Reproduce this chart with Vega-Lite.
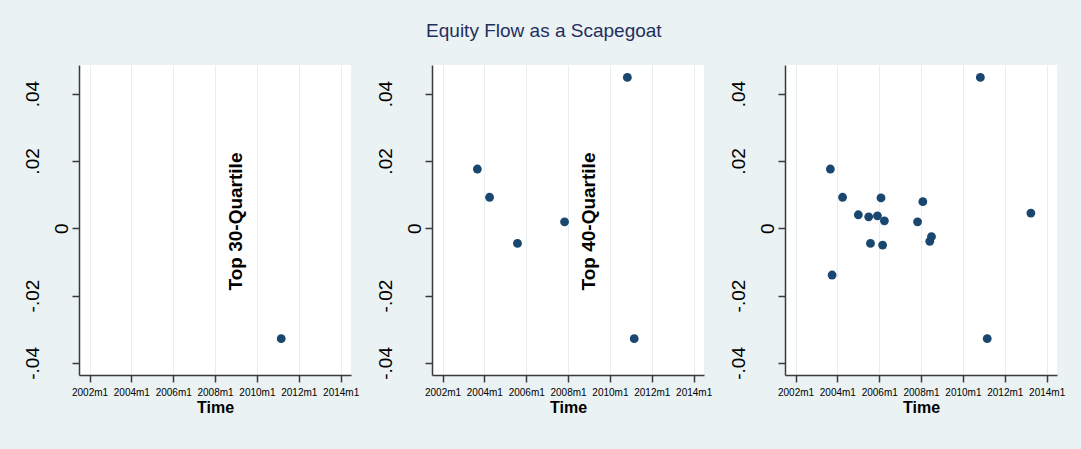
{
  "$schema": "https://vega.github.io/schema/vega-lite/v6.json",
  "padding": {"left": 22, "top": 22, "right": 16, "bottom": 36},
  "background": "#EAF2F3",
  "title": {"text": "Equity Flow as a Scapegoat", "font": "Liberation Sans", "fontSize": 19, "fontWeight": "normal", "color": "#1F2F5F", "anchor": "middle", "frame": "bounds", "offset": 24},
  "datasets": {
    "pts": [
      {"panel": 1, "date": "2011-03-01", "value": -0.0328},
      {"panel": 2, "date": "2003-09-01", "value": 0.0176},
      {"panel": 2, "date": "2004-04-01", "value": 0.0092},
      {"panel": 2, "date": "2005-08-01", "value": -0.0045},
      {"panel": 2, "date": "2007-11-01", "value": 0.0019},
      {"panel": 2, "date": "2010-11-01", "value": 0.0448},
      {"panel": 2, "date": "2011-03-01", "value": -0.0328},
      {"panel": 3, "date": "2003-09-01", "value": 0.0176},
      {"panel": 3, "date": "2003-10-01", "value": -0.0139},
      {"panel": 3, "date": "2004-04-01", "value": 0.0092},
      {"panel": 3, "date": "2005-01-01", "value": 0.0040},
      {"panel": 3, "date": "2005-07-01", "value": 0.0034},
      {"panel": 3, "date": "2005-08-01", "value": -0.0045},
      {"panel": 3, "date": "2005-12-01", "value": 0.0037},
      {"panel": 3, "date": "2006-02-01", "value": 0.0090},
      {"panel": 3, "date": "2006-03-01", "value": -0.0050},
      {"panel": 3, "date": "2006-04-01", "value": 0.0022},
      {"panel": 3, "date": "2007-11-01", "value": 0.0019},
      {"panel": 3, "date": "2008-02-01", "value": 0.0079},
      {"panel": 3, "date": "2008-06-01", "value": -0.0039},
      {"panel": 3, "date": "2008-07-01", "value": -0.0025},
      {"panel": 3, "date": "2010-11-01", "value": 0.0448},
      {"panel": 3, "date": "2011-03-01", "value": -0.0328},
      {"panel": 3, "date": "2013-04-01", "value": 0.0045}
    ],
    "notes": [
      {"panel": 1, "date": "2009-01-01", "value": 0.002, "label": "Top 30-Quartile"},
      {"panel": 2, "date": "2009-01-01", "value": 0.002, "label": "Top 40-Quartile"}
    ]
  },
  "spacing": 81,
  "bounds": "flush",
  "hconcat": [
    {
      "width": 272, "height": 310,
      "layer": [
        {
          "data": {"name": "pts"},
          "transform": [{"filter": "datum.panel == 1"}],
          "mark": {"type": "circle", "size": 78, "color": "#1a476f", "opacity": 1},
          "encoding": {
            "x": {"field": "date", "type": "temporal", "scale": {"type": "utc", "domain": [{"year": 2001, "month": 7, "utc": true}, {"year": 2014, "month": 7, "utc": true}]}, "axis": {"values": [{"year": 2002, "month": 1, "utc": true}, {"year": 2004, "month": 1, "utc": true}, {"year": 2006, "month": 1, "utc": true}, {"year": 2008, "month": 1, "utc": true}, {"year": 2010, "month": 1, "utc": true}, {"year": 2012, "month": 1, "utc": true}, {"year": 2014, "month": 1, "utc": true}], "labelExpr": "utcFormat(datum.value, '%Y') + 'm1'", "title": "Time"}},
            "y": {"field": "value", "type": "quantitative", "scale": {"domain": [-0.0436, 0.0485], "nice": false, "zero": false}, "axis": {"values": [-0.04, -0.02, 0, 0.02, 0.04], "labelExpr": "datum.value == 0 ? '0' : (datum.value < 0 ? '-' : '') + '.0' + abs(round(datum.value * 100))", "title": null, "labelPadding": {"condition": {"test": "datum.value == 0", "value": 5}, "value": 34}}}
          }
        },
        {
          "data": {"name": "notes"},
          "transform": [{"filter": "datum.panel == 1"}],
          "mark": {"type": "text", "angle": 270, "align": "center", "baseline": "middle", "font": "Liberation Sans", "fontSize": 19, "fontWeight": "bold", "color": "#000"},
          "encoding": {
            "x": {"field": "date", "type": "temporal"},
            "y": {"field": "value", "type": "quantitative"},
            "text": {"field": "label"}
          }
        }
      ]
    },
    {
      "width": 272, "height": 310,
      "layer": [
        {
          "data": {"name": "pts"},
          "transform": [{"filter": "datum.panel == 2"}],
          "mark": {"type": "circle", "size": 78, "color": "#1a476f", "opacity": 1},
          "encoding": {
            "x": {"field": "date", "type": "temporal", "scale": {"type": "utc", "domain": [{"year": 2001, "month": 7, "utc": true}, {"year": 2014, "month": 7, "utc": true}]}, "axis": {"values": [{"year": 2002, "month": 1, "utc": true}, {"year": 2004, "month": 1, "utc": true}, {"year": 2006, "month": 1, "utc": true}, {"year": 2008, "month": 1, "utc": true}, {"year": 2010, "month": 1, "utc": true}, {"year": 2012, "month": 1, "utc": true}, {"year": 2014, "month": 1, "utc": true}], "labelExpr": "utcFormat(datum.value, '%Y') + 'm1'", "title": "Time"}},
            "y": {"field": "value", "type": "quantitative", "scale": {"domain": [-0.0436, 0.0485], "nice": false, "zero": false}, "axis": {"values": [-0.04, -0.02, 0, 0.02, 0.04], "labelExpr": "datum.value == 0 ? '0' : (datum.value < 0 ? '-' : '') + '.0' + abs(round(datum.value * 100))", "title": null, "labelPadding": {"condition": {"test": "datum.value == 0", "value": 5}, "value": 34}}}
          }
        },
        {
          "data": {"name": "notes"},
          "transform": [{"filter": "datum.panel == 2"}],
          "mark": {"type": "text", "angle": 270, "align": "center", "baseline": "middle", "font": "Liberation Sans", "fontSize": 19, "fontWeight": "bold", "color": "#000"},
          "encoding": {
            "x": {"field": "date", "type": "temporal"},
            "y": {"field": "value", "type": "quantitative"},
            "text": {"field": "label"}
          }
        }
      ]
    },
    {
      "width": 272, "height": 310,
      "data": {"name": "pts"},
      "transform": [{"filter": "datum.panel == 3"}],
      "mark": {"type": "circle", "size": 78, "color": "#1a476f", "opacity": 1},
      "encoding": {
        "x": {"field": "date", "type": "temporal", "scale": {"type": "utc", "domain": [{"year": 2001, "month": 7, "utc": true}, {"year": 2014, "month": 7, "utc": true}]}, "axis": {"values": [{"year": 2002, "month": 1, "utc": true}, {"year": 2004, "month": 1, "utc": true}, {"year": 2006, "month": 1, "utc": true}, {"year": 2008, "month": 1, "utc": true}, {"year": 2010, "month": 1, "utc": true}, {"year": 2012, "month": 1, "utc": true}, {"year": 2014, "month": 1, "utc": true}], "labelExpr": "utcFormat(datum.value, '%Y') + 'm1'", "title": "Time"}},
        "y": {"field": "value", "type": "quantitative", "scale": {"domain": [-0.0436, 0.0485], "nice": false, "zero": false}, "axis": {"values": [-0.04, -0.02, 0, 0.02, 0.04], "labelExpr": "datum.value == 0 ? '0' : (datum.value < 0 ? '-' : '') + '.0' + abs(round(datum.value * 100))", "title": null, "labelPadding": {"condition": {"test": "datum.value == 0", "value": 5}, "value": 34}}}
      }
    }
  ],
  "config": {
    "view": {"stroke": null, "fill": "white"},
    "axis": {"domainColor": "#3a3a3a", "domainWidth": 1.5, "tickColor": "#3a3a3a", "tickWidth": 1.5, "tickSize": 7, "labelColor": "#000", "gridColor": "#E6EEF0", "gridWidth": 1, "labelFlush": false, "labelOverlap": false},
    "axisX": {"grid": true, "labelFont": "Liberation Sans", "labelFontSize": 10, "labelPadding": 5, "titleFont": "Liberation Sans", "titleFontSize": 16, "titleFontWeight": "bold", "titleColor": "#000", "titlePadding": 2},
    "axisY": {"grid": false, "labelFont": "Liberation Sans", "labelFontSize": 19, "labelAngle": 270, "labelAlign": "center", "labelBaseline": "alphabetic"}
  }
}
